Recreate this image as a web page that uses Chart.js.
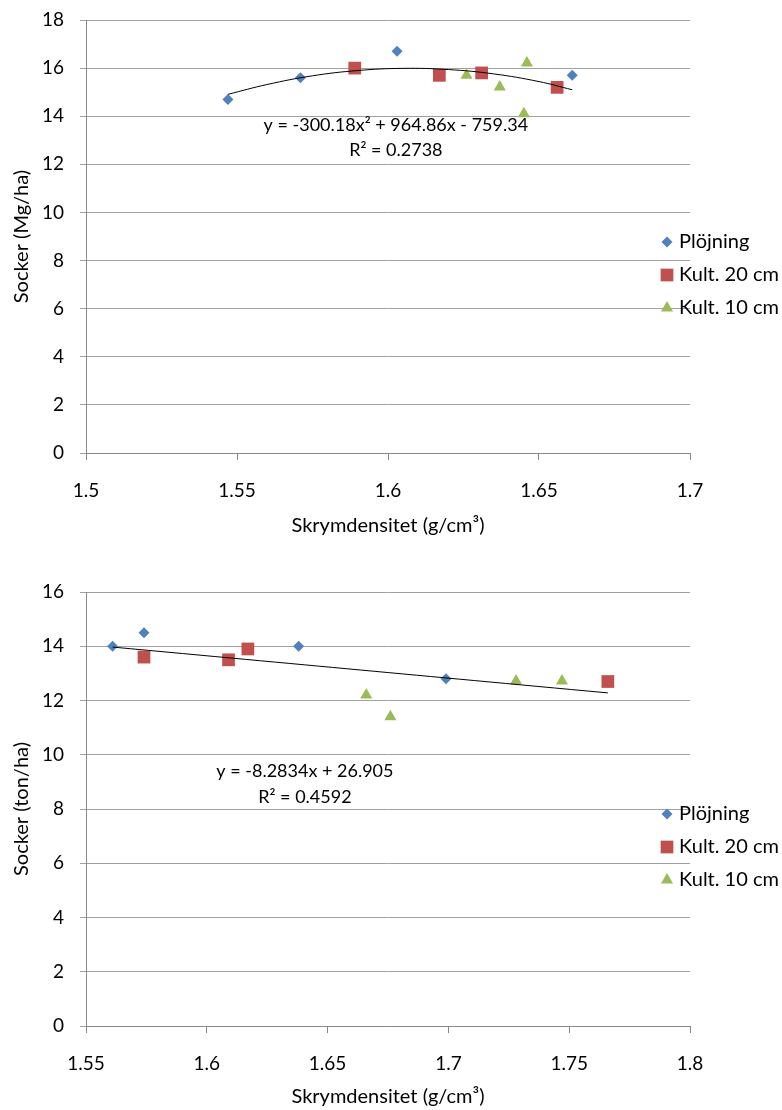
<!DOCTYPE html>
<html>
<head>
<meta charset="utf-8">
<script src="https://cdn.jsdelivr.net/npm/chart.js@4.4.1/dist/chart.umd.min.js"></script>
<style>
  html, body { margin: 0; padding: 0; background: #fff; overflow: hidden; }
  .box { position: absolute; left: 0; width: 782px; }
  #top { top: 0; height: 545px; }
  #bottom { top: 565px; height: 545px; }
</style>
</head>
<body>
<div class="box" id="top"><canvas id="chartTop"></canvas></div>
<div class="box" id="bottom"><canvas id="chartBottom"></canvas></div>
<script>
// series names
const seriesNames = ["Plöjning", "Kult. 20 cm", "Kult. 10 cm"];

// top chart: Socker (Mg/ha)
const topPlojX = [1.547, 1.571, 1.603, 1.661];
const topPlojY = [14.7, 15.6, 16.7, 15.7];
const topK20X = [1.589, 1.617, 1.631, 1.656];
const topK20Y = [16.0, 15.7, 15.8, 15.2];
const topK10X = [1.626, 1.637, 1.646, 1.645];
const topK10Y = [15.7, 15.21, 16.21, 14.1];
const topTrendX = [1.547, 1.56, 1.575, 1.59, 1.605, 1.62, 1.635, 1.65, 1.661];
const topTrendY = [14.91, 15.32, 15.68, 15.9, 15.99, 15.94, 15.76, 15.44, 15.1];
const topEquation = ["y = -300.18x² + 964.86x - 759.34", "R² = 0.2738"];

// bottom chart: Socker (ton/ha)
const botPlojX = [1.561, 1.574, 1.638, 1.699];
const botPlojY = [14.0, 14.5, 14.0, 12.8];
const botK20X = [1.574, 1.609, 1.617, 1.766];
const botK20Y = [13.6, 13.5, 13.9, 12.7];
const botK10X = [1.666, 1.676, 1.728, 1.747];
const botK10Y = [12.2, 11.4, 12.72, 12.72];
const botTrendX = [1.561, 1.766];
const botTrendY = [13.97, 12.28];
const botEquation = ["y = -8.2834x + 26.905", "R² = 0.4592"];

const BLUE = "#4F81BD";
const RED = "#C0504D";
const GREEN = "#9BBB59";
const GRID = "#a0a0a0";
const AXIS = "#888888";

Chart.defaults.font.family = "Lato, 'Open Sans', sans-serif";
Chart.defaults.color = "#000";

function pts(xs, ys) {
  return xs.map((x, i) => ({ x: x, y: ys[i] }));
}

function marker(ctx, style, r, x, y) {
  ctx.beginPath();
  if (style === "rectRot") {
    ctx.moveTo(x, y - r); ctx.lineTo(x + r, y); ctx.lineTo(x, y + r); ctx.lineTo(x - r, y);
  } else if (style === "rect") {
    const s = r * Math.SQRT1_2;
    ctx.rect(x - s, y - s, 2 * s, 2 * s);
  } else {
    ctx.moveTo(x, y - r);
    ctx.lineTo(x + r * Math.sin(Math.PI * 2 / 3), y - r * Math.cos(Math.PI * 2 / 3));
    ctx.lineTo(x + r * Math.sin(Math.PI * 4 / 3), y - r * Math.cos(Math.PI * 4 / 3));
  }
  ctx.closePath();
  ctx.fill();
}

// legend sits over the right part of the plot, like Excel does it
const sideLegend = {
  id: "sideLegend",
  afterDatasetsDraw(chart) {
    const ctx = chart.ctx;
    const top = chart.chartArea.top;
    ctx.save();
    ctx.font = "20px Lato";
    ctx.textBaseline = "middle";
    ctx.textAlign = "left";
    chart.data.datasets.slice(1).forEach((ds, i) => {
      const y = top + 222 + i * 33;
      ctx.fillStyle = ds.backgroundColor;
      marker(ctx, ds.pointStyle, ds.pointRadius, 667, y);
      ctx.fillStyle = "#000";
      ctx.fillText(ds.label, 679, y);
    });
    ctx.restore();
  }
};

const trendLabel = {
  id: "trendLabel",
  afterDatasetsDraw(chart, args, opts) {
    const ctx = chart.ctx;
    const xs = chart.scales.x, ys = chart.scales.y;
    ctx.save();
    ctx.font = "18px Lato";
    ctx.fillStyle = "#000";
    ctx.textAlign = "center";
    ctx.textBaseline = "middle";
    opts.lines.forEach((t, i) => {
      ctx.fillText(t, xs.getPixelForValue(opts.x), ys.getPixelForValue(opts.y[i]));
    });
    ctx.restore();
  }
};

function makeChart(id, c) {
  return new Chart(document.getElementById(id), {
    type: "scatter",
    data: {
      datasets: [
        {
          label: "trend",
          data: pts(c.trendX, c.trendY),
          showLine: true,
          borderColor: "#000",
          borderWidth: 1,
          pointRadius: 0,
          tension: 0.4,
          fill: false,
          order: 0,
        },
        {
          label: seriesNames[0],
          data: pts(c.plojX, c.plojY),
          pointStyle: "rectRot",
          pointRadius: 5.5,
          backgroundColor: BLUE,
          borderColor: BLUE,
          borderWidth: 0,
          order: 1,
        },
        {
          label: seriesNames[1],
          data: pts(c.k20X, c.k20Y),
          pointStyle: "rect",
          pointRadius: 9,
          backgroundColor: RED,
          borderColor: RED,
          borderWidth: 0,
          order: 1,
        },
        {
          label: seriesNames[2],
          data: pts(c.k10X, c.k10Y),
          pointStyle: "triangle",
          pointRadius: 7,
          backgroundColor: GREEN,
          borderColor: GREEN,
          borderWidth: 0,
          order: 1,
        },
      ],
    },
    options: {
      responsive: true,
      maintainAspectRatio: false,
      animation: false,
      layout: { padding: { left: 0, right: 92, top: c.padTop, bottom: 0 } },
      plugins: {
        legend: { display: false },
        tooltip: { enabled: false },
        trendLabel: { x: c.eqX, y: c.eqY, lines: c.eqLines },
      },
      scales: {
        x: {
          type: "linear",
          min: c.xMin,
          max: c.xMax,
          ticks: {
            stepSize: 0.05,
            padding: 19,
            font: { size: 19 },
            maxRotation: 0,
            autoSkip: false,
            callback: (v) => String(+v.toFixed(2)),
          },
          grid: { drawOnChartArea: false, drawTicks: true, tickLength: 7, color: AXIS },
          border: { display: true, color: AXIS },
          title: {
            display: true,
            text: "Skrymdensitet (g/cm³)",
            font: { size: 20 },
            padding: { top: 0, bottom: c.xTitlePad },
          },
          afterFit: (s) => { s.height = c.xHeight; },
        },
        y: {
          min: 0,
          max: c.yMax,
          ticks: { stepSize: 2, padding: 16, font: { size: 19 } },
          grid: { color: GRID, tickLength: 6 },
          border: { display: true, color: AXIS },
          title: {
            display: true,
            text: c.yTitle,
            font: { size: 20 },
            padding: { top: 10, bottom: 0 },
          },
          afterFit: (s) => {
            s.width = 86;
            s.paddingTop = 0;
            s.paddingBottom = 0;
          },
        },
      },
    },
    plugins: [sideLegend, trendLabel],
  });
}

makeChart("chartTop", {
  plojX: topPlojX, plojY: topPlojY,
  k20X: topK20X, k20Y: topK20Y,
  k10X: topK10X, k10Y: topK10Y,
  trendX: topTrendX, trendY: topTrendY,
  eqLines: topEquation, eqX: 1.6026, eqY: [13.63, 12.59],
  xMin: 1.5, xMax: 1.7, yMax: 18,
  yTitle: "Socker (Mg/ha)",
  padTop: 20, xHeight: 92, xTitlePad: 7,
});

makeChart("chartBottom", {
  plojX: botPlojX, plojY: botPlojY,
  k20X: botK20X, k20Y: botK20Y,
  k10X: botK10X, k10Y: botK10Y,
  trendX: botTrendX, trendY: botTrendY,
  eqLines: botEquation, eqX: 1.6406, eqY: [9.4, 8.44],
  xMin: 1.55, xMax: 1.8, yMax: 16,
  yTitle: "Socker (ton/ha)",
  padTop: 27, xHeight: 84, xTitlePad: 1,
});
</script>
</body>
</html>
